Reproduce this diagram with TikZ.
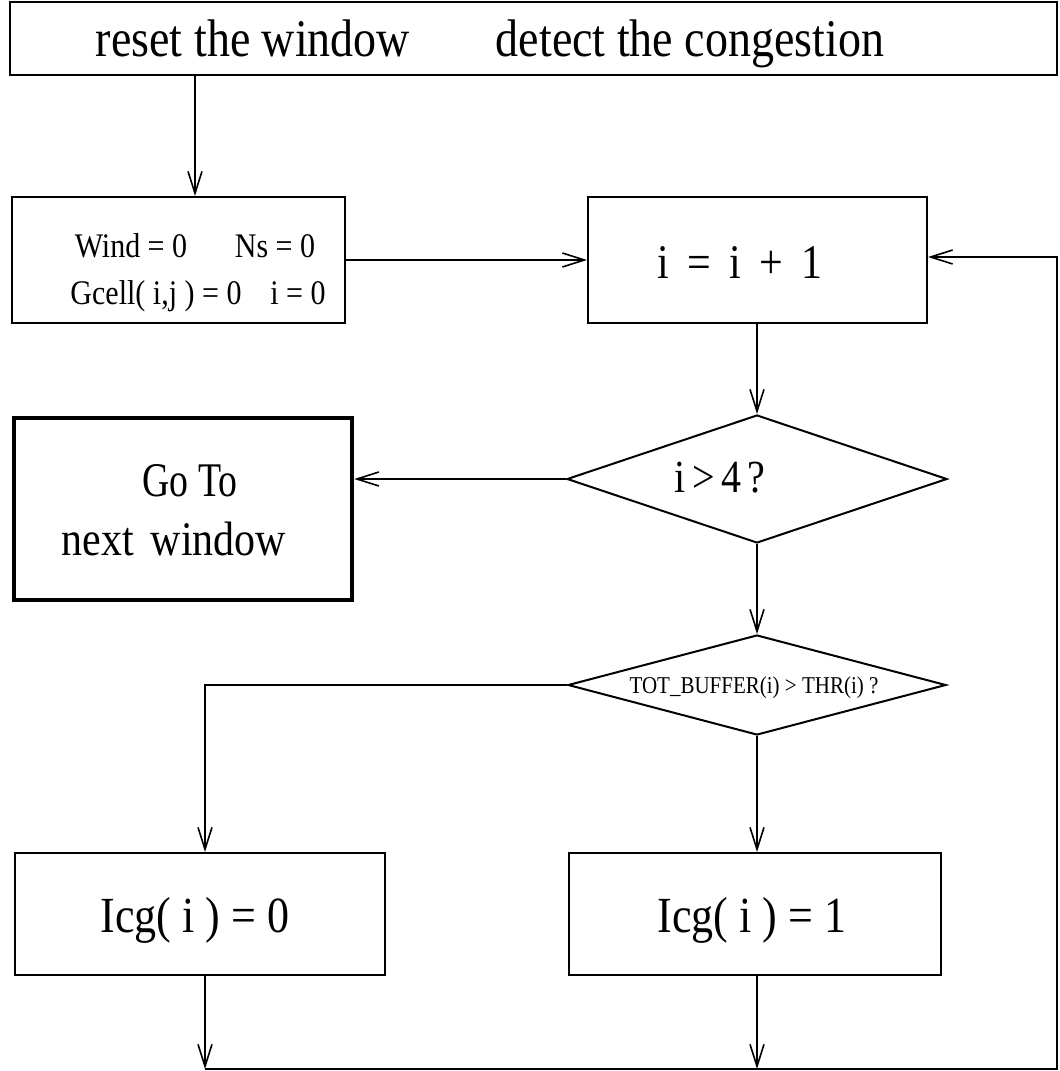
\documentclass[tikz,border=0pt]{standalone}
\usepackage{fontspec}
\usepackage{graphicx}
\setmainfont{Liberation Serif}
\usetikzlibrary{arrows.meta,shapes.geometric}
\newcommand{\tallt}[1]{\scalebox{1}[1.15]{#1}}
\begin{document}
\begin{tikzpicture}[x=1pt,y=-1pt,line width=2pt,
  box/.style={draw,rectangle,inner sep=0pt},
  dia/.style={draw,diamond,inner sep=0pt},
  txt/.style={inner sep=0pt,anchor=base},
  arr/.style={-{Straight Barb[length=22pt,width=14pt,line width=1.6pt]}},
  fbig/.style={font=\fontsize{46}{50}\selectfont},
  fmid/.style={font=\fontsize{30}{34}\selectfont},
  fbox/.style={font=\fontsize{42}{46}\selectfont},
  fsmall/.style={font=\fontsize{21}{24}\selectfont}]
\useasboundingbox (0,0) rectangle (1060,1071);
% boxes
\node[box,minimum width=1047pt,minimum height=73pt] (top) at (533.5,38.5) {};
\node[box,minimum width=333pt,minimum height=126pt] (init) at (178.5,260) {};
\node[box,minimum width=339pt,minimum height=126pt] (inc) at (757.5,260) {};
\node[dia,minimum width=380pt,minimum height=128pt] (d1) at (757,479) {};
\node[box,line width=4.5pt,minimum width=338pt,minimum height=182pt] (goto) at (183,509) {};
\node[dia,minimum width=378pt,minimum height=100pt] (d2) at (757,685) {};
\node[box,minimum width=370pt,minimum height=122pt] (icg0) at (200,914) {};
\node[box,minimum width=372pt,minimum height=122pt] (icg1) at (755,914) {};
\coordinate (bl) at (205,1069);
\coordinate (br) at (1057,1069);
\coordinate (tr) at (1057,257);
\coordinate (lc) at (205,685);
% texts
\node[txt,fbig] (t1) at (253,56) {\tallt{reset the window}};
\node[txt,fbig] (t2) at (690,56) {\tallt{detect the congestion}};
\node[txt,fmid] (a1) at (131,257) {\tallt{Wind = 0}};
\node[txt,fmid] (a2) at (275,257) {\tallt{Ns = 0}};
\node[txt,fmid] (a3) at (156,304) {\tallt{Gcell( i,j ) = 0}};
\node[txt,fmid] (a4) at (298,304) {\tallt{i = 0}};
\node[txt,fbox] (b1) at (740,278) {\tallt{i\hspace{8pt} = \hspace{8pt}i\hspace{8pt} + \hspace{8pt}1}};
\node[txt,font=\fontsize{40}{44}\selectfont] (c1) at (720,492) {\tallt{i\,>\,4\,?}};
\node[txt,fbox] (g1) at (190,496) {\scalebox{0.9}[1.15]{Go To}};
\node[txt,fbox] (g2) at (174,555) {\tallt{next\hspace{6pt} window}};
\node[txt,fsmall] (e1) at (754,693) {\tallt{TOT\_BUFFER(i) > THR(i) ?}};
\node[txt,font=\fontsize{44}{48}\selectfont] (f1) at (195,932) {\tallt{Icg( i ) = 0}};
\node[txt,font=\fontsize{44}{48}\selectfont] (f2) at (752,932) {\tallt{Icg( i ) = 1}};
% connectors
\draw[arr] (top.south -| 195,0) -- (init.north -| 195,0);
\draw[arr] (init.east) -- (inc.west);
\draw[arr] (inc.south -| d1.north) -- (d1.north);
\draw[arr] (d1.west) -- (goto.east |- d1.west);
\draw[arr] (d1.south) -- (d2.north);
\draw[arr] (d2.west) -- (lc) -- (icg0.north -| lc);
\draw[arr] (d2.south) -- (icg1.north -| d2.south);
\draw[arr] (icg0.south -| bl) -- (bl);
\draw[arr] (icg1.south -| d2.south) -- (d2.south |- bl);
\draw[arr] (bl) -- (br) -- (tr) -- (inc.east |- tr);
\end{tikzpicture}
\end{document}
